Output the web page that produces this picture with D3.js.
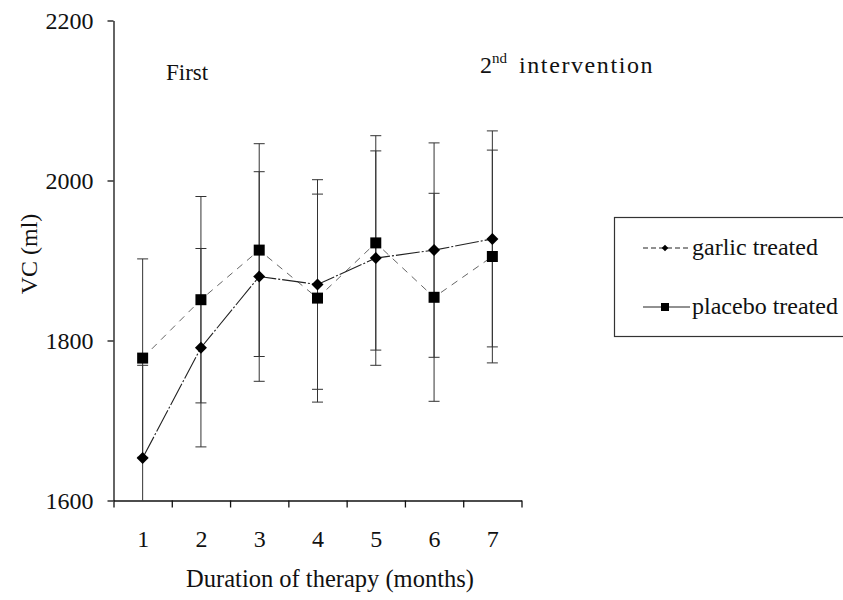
<!DOCTYPE html>
<html>
<head>
<meta charset="utf-8">
<script src="https://cdn.jsdelivr.net/npm/d3@7"></script>
<style>
  body { margin: 0; background: #fff; }
  svg text { font-family: 'Liberation Serif', 'Times New Roman', Times, 'DejaVu Serif', serif !important; }
</style>
</head>
<body>
<svg width="843" height="600"></svg>
<script>
// VC over months of therapy, garlic vs placebo

var months = [1, 2, 3, 4, 5, 6, 7];
var garlicVC = [1653, 1791, 1880, 1870, 1903, 1913, 1927];
var garlicSD = [116, 124, 131, 131, 134, 134, 135];
var placeboVC = [1778, 1851, 1913, 1853, 1922, 1854, 1905];
var placeboSD = [124, 129, 133, 130, 134, 130, 133];
var yTicks = [1600, 1800, 2000, 2200];
var seriesNames = ["garlic treated", "placebo treated"];

var svg = d3.select("svg");

// scales: months sit in the middle of 7 equal slots
var xScale = d3.scaleLinear().domain([0.5, 7.5]).range([113.5, 521.5]);
var yScale = d3.scaleLinear().domain([1600, 2200]).range([500.5, 20.5]);

// y axis
var yAxis = d3.axisLeft(yScale)
  .tickValues(yTicks)
  .tickSize(6)
  .tickSizeOuter(0)
  .tickPadding(14)
  .tickFormat(d3.format("d"));

var yG = svg.append("g").attr("transform", "translate(113.5,0)").call(yAxis)
  .attr("font-family", null).attr("font-size", 24);
yG.selectAll("text").attr("fill", "#111");
yG.selectAll("line, path").attr("stroke", "#111").attr("stroke-width", 1.3);

// x axis: tick marks on the slot borders, labels on the months
var xTickAxis = d3.axisBottom(xScale)
  .tickValues(d3.range(0.5, 8, 1))
  .tickSize(7)
  .tickSizeOuter(0)
  .tickFormat("");

var xG = svg.append("g").attr("transform", "translate(0,500.5)").call(xTickAxis);
xG.selectAll("line, path").attr("stroke", "#111").attr("stroke-width", 1.3);

var xLabelAxis = d3.axisBottom(xScale)
  .tickValues(months)
  .tickSize(0)
  .tickPadding(29)
  .tickFormat(d3.format("d"));

var xL = svg.append("g").attr("transform", "translate(0,500.5)").call(xLabelAxis)
  .attr("font-family", null).attr("font-size", 24);
xL.select(".domain").remove();
xL.selectAll("text").attr("fill", "#111");

// axis titles
svg.append("text")
  .attr("x", 330).attr("y", 587)
  .attr("text-anchor", "middle")
  .attr("font-size", 24.5)
  .attr("fill", "#111")
  .text("Duration of therapy (months)");

svg.append("text")
  .attr("transform", "translate(37,254) rotate(-90)")
  .attr("text-anchor", "middle")
  .attr("font-size", 24)
  .attr("fill", "#111")
  .text("VC (ml)");

// annotations
svg.append("text")
  .attr("x", 166).attr("y", 80)
  .attr("font-size", 23)
  .attr("fill", "#111")
  .text("First");

var note = svg.append("text")
  .attr("x", 480).attr("y", 73)
  .attr("font-size", 24)
  .attr("fill", "#111");
note.append("tspan").text("2");
note.append("tspan").attr("dy", -10).attr("font-size", 15).text("nd");
note.append("tspan").attr("dy", 10).attr("dx", 12)
  .attr("letter-spacing", 1.6)
  .text("intervention");

// series
var garlic = months.map(function(m, i) {
  return {month: m, vc: garlicVC[i], sd: garlicSD[i]};
});
var placebo = months.map(function(m, i) {
  return {month: m, vc: placeboVC[i], sd: placeboSD[i]};
});

var yMin = yScale.domain()[0];

function errorBars(data) {
  var g = svg.append("g").attr("stroke", "#333").attr("stroke-width", 1);
  g.selectAll("line.bar")
    .data(data)
    .enter()
    .append("line")
    .attr("class", "bar")
    .attr("x1", function(d) { return xScale(d.month); })
    .attr("x2", function(d) { return xScale(d.month); })
    .attr("y1", function(d) { return yScale(d.vc + d.sd); })
    .attr("y2", function(d) { return yScale(Math.max(d.vc - d.sd, yMin)); });

  // caps, skipping the ones that fall below the axis
  var capData = [];
  data.forEach(function(d) {
    capData.push({month: d.month, v: d.vc + d.sd});
    if (d.vc - d.sd >= yMin) capData.push({month: d.month, v: d.vc - d.sd});
  });
  g.selectAll("line.cap")
    .data(capData)
    .enter()
    .append("line")
    .attr("class", "cap")
    .attr("x1", function(d) { return xScale(d.month) - 5.5; })
    .attr("x2", function(d) { return xScale(d.month) + 5.5; })
    .attr("y1", function(d) { return yScale(d.v); })
    .attr("y2", function(d) { return yScale(d.v); });
}

errorBars(garlic);
errorBars(placebo);

var line = d3.line()
  .x(function(d) { return xScale(d.month); })
  .y(function(d) { return yScale(d.vc); });

svg.append("path")
  .attr("d", line(placebo))
  .attr("fill", "none")
  .attr("stroke", "#666")
  .attr("stroke-width", 1)
  .attr("stroke-dasharray", "7,6");

svg.append("path")
  .attr("d", line(garlic))
  .attr("fill", "none")
  .attr("stroke", "#222")
  .attr("stroke-width", 1.1)
  .attr("stroke-dasharray", "24,2,2,2");

var diamond = d3.symbol().type(d3.symbolSquare).size(72);
var square = d3.symbol().type(d3.symbolSquare).size(121);

svg.selectAll("path.garlic")
  .data(garlic)
  .enter()
  .append("path")
  .attr("class", "garlic")
  .attr("d", diamond)
  .attr("transform", function(d) {
    return "translate(" + xScale(d.month) + "," + yScale(d.vc) + ") rotate(45)";
  })
  .attr("fill", "#000");

svg.selectAll("path.placebo")
  .data(placebo)
  .enter()
  .append("path")
  .attr("class", "placebo")
  .attr("d", square)
  .attr("transform", function(d) {
    return "translate(" + xScale(d.month) + "," + yScale(d.vc) + ")";
  })
  .attr("fill", "#000");

// legend
var legend = svg.append("g");
legend.append("rect")
  .attr("x", 614.5).attr("y", 217.5)
  .attr("width", 240).attr("height", 119)
  .attr("fill", "none")
  .attr("stroke", "#333")
  .attr("stroke-width", 1.2);

var legendRows = [
  {name: seriesNames[0], y: 248, dash: "5,3", sym: d3.symbol().type(d3.symbolSquare).size(22), rot: 45},
  {name: seriesNames[1], y: 307, dash: null, sym: d3.symbol().type(d3.symbolSquare).size(64), rot: 0}
];

legendRows.forEach(function(r) {
  legend.append("line")
    .attr("x1", 643).attr("x2", 690)
    .attr("y1", r.y).attr("y2", r.y)
    .attr("stroke", "#222")
    .attr("stroke-width", 1)
    .attr("stroke-dasharray", r.dash);
  legend.append("path")
    .attr("d", r.sym)
    .attr("transform", "translate(665," + r.y + ") rotate(" + r.rot + ")")
    .attr("fill", "#000");
  legend.append("text")
    .attr("x", 692).attr("y", r.y + 7)
    .attr("font-size", 24)
    .attr("fill", "#111")
    .text(r.name);
});
</script>
</body>
</html>
